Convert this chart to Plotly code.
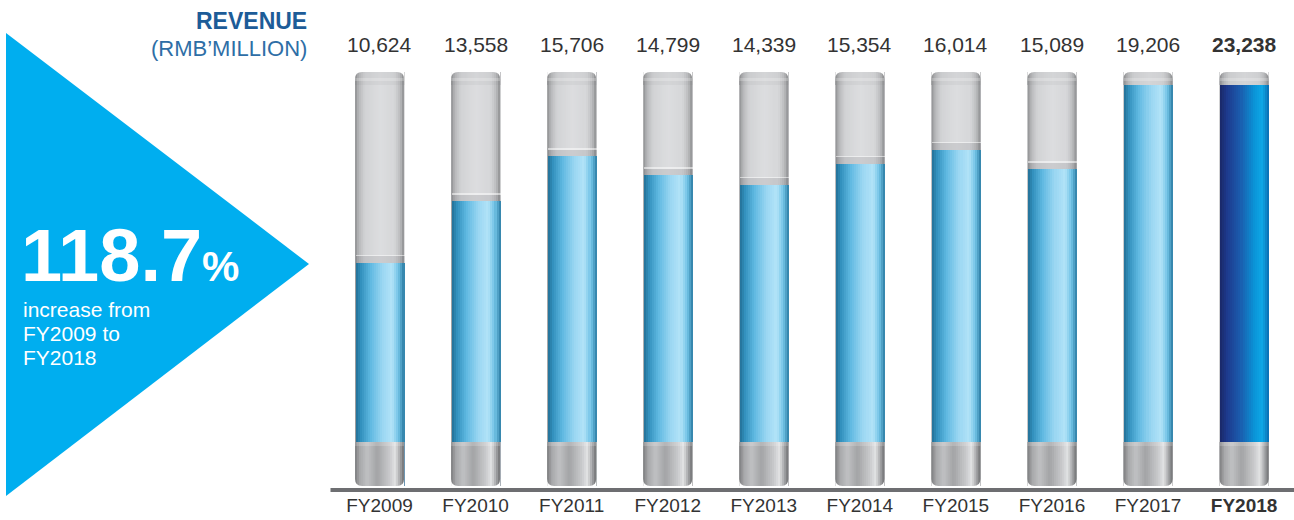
import plotly.graph_objects as go

# ---- data -------------------------------------------------------------
years = ["FY2009", "FY2010", "FY2011", "FY2012", "FY2013",
         "FY2014", "FY2015", "FY2016", "FY2017", "FY2018"]
revenue = [10624, 13558, 15706, 14799, 14339, 15354, 16014, 15089, 19206, 23238]
highlight_year = "FY2018"
growth_pct = 118.7
title_main = "REVENUE"
title_unit = "(RMB\u2019MILLION)"
growth_lines = ["increase from", "FY2009 to", "FY2018"]

# ---- canvas / geometry ------------------------------------------------
W, H = 1294, 520


def px(x):
    return x / W


def py(y):
    return 1 - y / H


PLOT_L, PLOT_R = 331.5, 1292.1      # x extent of the category axis (px)
TUBE_BOT, TUBE_TOP = 486, 72        # tube bottom / top (px)
Y_MAX = 19714                       # value at the tube top
PX_PER_UNIT = (TUBE_BOT - TUBE_TOP) / Y_MAX
SLOT = (PLOT_R - PLOT_L) / len(years)
HALF = 0.255                        # half tube width in category units
N = 24                              # colour strips across a tube
STEP = 2 * HALF / N
CAP_BOT_TOP = 442                   # top of the metallic foot (px)
CAP_TOP_BOT = 85                    # bottom of the rounded top cap (px)
R_PX = 7                            # corner radius (px)

FONT = "Liberation Sans, Arial, Helvetica, sans-serif"


def hex2rgb(h):
    h = h.lstrip("#")
    return tuple(int(h[i:i + 2], 16) for i in (0, 2, 4))


def ramp(stops, n):
    out = []
    for k in range(n):
        t = (k + 0.5) / n
        for (p0, c0), (p1, c1) in zip(stops, stops[1:]):
            if p0 <= t <= p1:
                f = (t - p0) / (p1 - p0) if p1 > p0 else 0
                a, b = hex2rgb(c0), hex2rgb(c1)
                r = [round(a[j] + (b[j] - a[j]) * f) for j in range(3)]
                out.append("rgb(%d,%d,%d)" % tuple(r))
                break
    return out


blue_ramp = ramp([(0, "#236f96"), (0.1, "#3290bd"), (0.3, "#5fb9e1"),
                  (0.55, "#9ad6f2"), (0.75, "#b2e3f8"), (0.88, "#72c3e6"),
                  (1, "#2a7ca4")], N)
navy_ramp = ramp([(0, "#1a2866"), (0.15, "#1d3a8e"), (0.4, "#1b5aab"),
                  (0.7, "#0a95d8"), (0.86, "#0ea7e6"), (1, "#0b6bb0")], N)
tube_ramp = ramp([(0, "#8d8e90"), (0.08, "#b8b9bb"), (0.2, "#d2d3d5"),
                  (0.5, "#dcdddf"), (0.8, "#d6d7d9"), (0.92, "#bbbcbe"),
                  (1, "#8c8d8f")], N)
foot_ramp = ramp([(0, "#7c7d7f"), (0.1, "#a8a9ab"), (0.25, "#c0c1c3"),
                  (0.45, "#a3a4a6"), (0.7, "#c8c9cb"), (0.82, "#e2e3e4"),
                  (0.92, "#a4a5a7"), (1, "#6e6f71")], N)
cap_ramp = ramp([(0, "#8a8b8d"), (0.08, "#b2b3b5"), (0.2, "#cbccce"),
                 (0.5, "#d4d5d7"), (0.8, "#cfd0d2"), (0.92, "#b6b7b9"),
                 (1, "#88898b")], N)

fig = go.Figure()

# revenue columns, painted as strips for the cylinder shading
for k in range(N):
    fig.add_trace(go.Bar(
        x=years, y=revenue,
        offset=-HALF + k * STEP, width=2 * HALF - k * STEP,
        marker=dict(color=[navy_ramp[k] if yr == highlight_year else blue_ramp[k]
                           for yr in years], line=dict(width=0)),
        hoverinfo="skip", showlegend=False))

# liquid surface: slightly darker band topped by a light rim
band = 6.5 / PX_PER_UNIT
rim = 1.4 / PX_PER_UNIT
fig.add_trace(go.Bar(
    x=years, y=[band] * len(years), base=revenue,
    offset=-HALF, width=2 * HALF,
    marker=dict(color="rgba(70,70,80,0.11)", line=dict(width=0)),
    hoverinfo="skip", showlegend=False))
fig.add_trace(go.Bar(
    x=years, y=[rim] * len(years), base=[v + band for v in revenue],
    offset=-HALF, width=2 * HALF,
    marker=dict(color="rgba(255,255,255,0.5)", line=dict(width=0)),
    hoverinfo="skip", showlegend=False))

shapes = []
rx = R_PX / SLOT
ry = R_PX / H
for i, yr in enumerate(years):
    x_left, x_right = i - HALF, i + HALF
    for k in range(N):
        xs = x_left + k * STEP
        # empty tube
        shapes.append(dict(type="rect", xref="x", yref="paper", layer="below",
                           x0=xs, x1=x_right, y0=py(TUBE_BOT), y1=py(TUBE_TOP),
                           fillcolor=tube_ramp[k], line=dict(width=0)))
        # metallic foot
        shapes.append(dict(type="rect", xref="x", yref="paper", layer="above",
                           x0=xs, x1=x_right, y0=py(TUBE_BOT), y1=py(CAP_BOT_TOP),
                           fillcolor=foot_ramp[k], line=dict(width=0)))
        # top cap
        shapes.append(dict(type="rect", xref="x", yref="paper", layer="above",
                           x0=xs, x1=x_right, y0=py(CAP_TOP_BOT), y1=py(TUBE_TOP),
                           fillcolor=cap_ramp[k], line=dict(width=0)))
    # soft sheen on the foot's upper edge
    shapes.append(dict(type="rect", xref="x", yref="paper", layer="above",
                       x0=x_left, x1=x_right, y0=py(CAP_BOT_TOP + 4), y1=py(CAP_BOT_TOP),
                       fillcolor="rgba(255,255,255,0.18)", line=dict(width=0)))
    # light band in the top cap
    shapes.append(dict(type="rect", xref="x", yref="paper", layer="above",
                       x0=x_left, x1=x_right, y0=py(81), y1=py(78),
                       fillcolor="rgba(255,255,255,0.22)", line=dict(width=0)))
    # rounded corners (white masks)
    yt, yb = py(TUBE_TOP), py(TUBE_BOT)
    for path in (
        f"M {x_left},{yt} L {x_left + rx},{yt} Q {x_left},{yt} {x_left},{yt - ry} Z",
        f"M {x_right},{yt} L {x_right - rx},{yt} Q {x_right},{yt} {x_right},{yt - ry} Z",
        f"M {x_left},{yb} L {x_left + rx},{yb} Q {x_left},{yb} {x_left},{yb + ry} Z",
        f"M {x_right},{yb} L {x_right - rx},{yb} Q {x_right},{yb} {x_right},{yb + ry} Z",
    ):
        shapes.append(dict(type="path", xref="x", yref="paper", layer="above",
                           path=path, fillcolor="white", line=dict(width=0)))

# baseline rule
shapes.append(dict(type="line", xref="paper", yref="paper",
                   x0=px(PLOT_L - 1), x1=1, y0=py(490), y1=py(490),
                   line=dict(color="#6d6e71", width=4)))

# arrow panel
shapes.append(dict(type="path", xref="paper", yref="paper", layer="below",
                   path=f"M {px(6)},{py(33)} L {px(309)},{py(264)} L {px(6)},{py(496)} Z",
                   fillcolor="#00aeef", line=dict(width=0)))

annotations = []
for yr, v in zip(years, revenue):
    txt = f"{v:,}"
    if yr == highlight_year:
        txt = f"<b>{txt}</b>"
    annotations.append(dict(x=yr, xref="x", y=py(44), yref="paper",
                            text=txt, showarrow=False, yanchor="middle",
                            font=dict(family=FONT, size=21, color="#333333")))

annotations.append(dict(x=px(309), y=py(21), xref="paper", yref="paper",
                        xanchor="right", yanchor="middle", showarrow=False,
                        text=f"<b>{title_main}</b>",
                        font=dict(family=FONT, size=23, color="#1d5c98")))
annotations.append(dict(x=px(309), y=py(48), xref="paper", yref="paper",
                        xanchor="right", yanchor="middle", showarrow=False,
                        text=title_unit,
                        font=dict(family=FONT, size=22, color="#2e6ea6")))

annotations.append(dict(x=px(19), y=py(255), xref="paper", yref="paper",
                        xanchor="left", yanchor="middle", showarrow=False,
                        text=f"<b>{growth_pct}<span style='font-size:42px'>%</span></b>",
                        font=dict(family=FONT, size=74, color="white")))
for j, line in enumerate(growth_lines):
    annotations.append(dict(x=px(21), y=py(309 + j * 24), xref="paper", yref="paper",
                            xanchor="left", yanchor="middle", showarrow=False,
                            text=line,
                            font=dict(family=FONT, size=21, color="white")))

fig.update_layout(
    width=W, height=H, autosize=False,
    margin=dict(l=0, r=0, t=0, b=0),
    paper_bgcolor="white", plot_bgcolor="white",
    barmode="overlay", bargap=0,
    shapes=shapes, annotations=annotations,
    xaxis=dict(domain=[px(PLOT_L), px(PLOT_R)], range=[-0.5, len(years) - 0.5],
               type="category", showgrid=False, zeroline=False, showline=False,
               ticks="", tickmode="array", tickvals=years,
               ticktext=[f"<b>{yr}</b>" if yr == highlight_year else yr for yr in years],
               tickfont=dict(family=FONT, size=19, color="#333333"),
               ticklabelstandoff=6, automargin=False, fixedrange=True),
    yaxis=dict(domain=[py(TUBE_BOT), py(TUBE_TOP)], range=[0, Y_MAX],
               visible=False, fixedrange=True),
    showlegend=False,
)

fig.write_html("out.html")
